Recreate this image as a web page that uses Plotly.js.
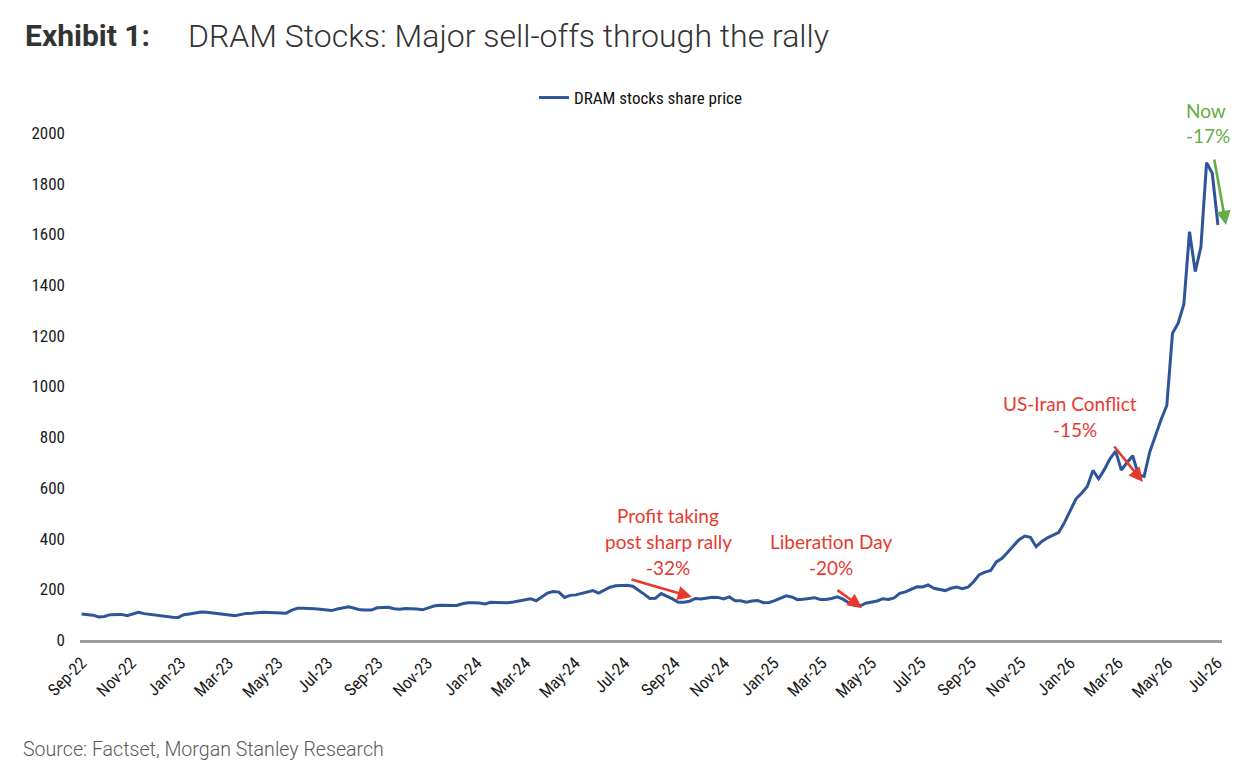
<!DOCTYPE html>
<html>
<head>
<meta charset="utf-8">
<script src="https://cdn.plot.ly/plotly-3.0.1.min.js"></script>
<style>
  html, body { margin: 0; padding: 0; background: #ffffff; }
  #chart { width: 1250px; height: 778px; }
</style>
</head>
<body>
<div id="chart"></div>
<script>
// ---- data (weekly closes) ----
var startDate = '2022-09-01';
var seriesName = 'DRAM stocks share price';
var prices = [
  103, 100, 98, 91, 93, 100, 101, 101, 96, 102,
  109, 104, 101, 99, 96, 93, 90, 89, 100, 103,
  106, 110, 109, 107, 106, 103, 99, 96, 101, 105,
  106, 108, 109, 108, 107, 106, 106, 118, 125, 125,
  125, 123, 121, 119, 116, 122, 126, 131, 125, 119,
  118, 118, 127, 128, 129, 123, 121, 124, 124, 122,
  119, 127, 134, 137, 137, 135, 136, 143, 147, 147,
  146, 142, 149, 148, 147, 147, 150, 155, 159, 163,
  155, 170, 185, 191, 189, 168, 176, 178, 184, 192,
  195, 185, 198, 208, 214, 214, 216, 212, 198, 181,
  164, 165, 183, 173, 162, 149, 149, 153, 164, 162,
  166, 169, 168, 162, 170, 155, 155, 149, 154, 156,
  147, 148, 155, 165, 174, 170, 159, 161, 165, 167,
  160, 160, 164, 170, 161, 147, 137, 134, 145, 149,
  154, 163, 160, 166, 184, 190, 200, 210, 209, 217,
  204, 199, 195, 204, 209, 202, 208, 230, 258, 268,
  274, 308, 322, 346, 373, 396, 410, 405, 368, 389,
  403, 414, 425, 464, 512, 556, 579, 606, 669, 636,
  672, 715, 745, 670, 700, 727, 651, 645, 742, 810,
  870, 925, 1210, 1250, 1325, 1611, 1453, 1550, 1883, 1841,
  1637
];
var yTicks = [0, 200, 400, 600, 800, 1000, 1200, 1400, 1600, 1800, 2000];
var titleBold = 'Exhibit 1:';
var titleMain = 'DRAM Stocks: Major sell-offs through the rally';
var sourceText = 'Source: Factset, Morgan Stanley Research';
var noteProfit = ['Profit taking', 'post sharp rally', '-32%'];
var noteLiberation = ['Liberation Day', '-20%'];
var noteIran = ['US-Iran Conflict', '-15%'];
var noteNow = ['Now', '-17%'];

// weekly dates
var dates = [];
var d0 = new Date(startDate + 'T00:00:00Z');
for (var i = 0; i < prices.length; i++) {
  var d = new Date(d0.getTime() + i * 7 * 86400000);
  dates.push(d.toISOString().slice(0, 10));
}

var RED = '#E8392F';
var GREEN = '#66AC45';
var TXT = 'Lato, "Open Sans", sans-serif';
var AX = '"Roboto Condensed", "Liberation Sans Narrow", Roboto, sans-serif';

// helpers to place things by plot-area pixel (plot area: x 80..1222, y 133..640)
function px(x) { return (x - 80) / 1142; }
function py(y) { return (640 - y) / 507; }

function note(text, x, y, color, size) {
  return {
    xref: 'paper', yref: 'paper', x: px(x), y: py(y),
    xanchor: 'center', yanchor: 'middle',
    text: text, showarrow: false,
    font: { family: TXT, size: size || 19, color: color }
  };
}
function arrow(tx, ty, hx, hy, color) {
  return {
    xref: 'paper', yref: 'paper', x: px(hx), y: py(hy),
    ax: tx - hx, ay: ty - hy, axref: 'pixel', ayref: 'pixel',
    text: '', showarrow: true, arrowhead: 2, arrowsize: 1.1,
    arrowwidth: 2.6, arrowcolor: color, standoff: 0, startstandoff: 0
  };
}

var annotations = [
  // title
  { xref: 'paper', yref: 'paper', x: px(23), y: py(36), xanchor: 'left', yanchor: 'middle',
    text: '<b>' + titleBold + '</b>', showarrow: false,
    font: { family: 'Roboto, sans-serif', size: 30, color: '#333333' } },
  { xref: 'paper', yref: 'paper', x: px(186), y: py(36), xanchor: 'left', yanchor: 'middle',
    text: titleMain, showarrow: false,
    font: { family: 'Roboto, sans-serif', size: 32, color: '#333333', weight: 300 } },
  // source
  { xref: 'paper', yref: 'paper', x: px(21), y: py(749), xanchor: 'left', yanchor: 'middle',
    text: sourceText, showarrow: false,
    font: { family: 'Roboto, sans-serif', size: 19.6, color: '#5a5a5a', weight: 300 } },
  // notes
  note(noteProfit[0], 668, 515, RED),
  note(noteProfit[1], 668, 541, RED),
  note(noteProfit[2], 668, 567, RED),
  note(noteLiberation[0], 831, 541, RED),
  note(noteLiberation[1], 831, 567, RED),
  note(noteIran[0], 1070, 403, RED),
  note(noteIran[1], 1075, 429, RED),
  note(noteNow[0], 1206, 110, GREEN),
  note(noteNow[1], 1208, 135, GREEN),
  // arrows
  arrow(630, 579, 692, 597, RED),
  arrow(836, 589, 862, 608, RED),
  arrow(1113, 445, 1143, 482, RED),
  arrow(1214, 158, 1226, 225, GREEN)
];

var trace = {
  type: 'scatter', mode: 'lines', name: seriesName,
  x: dates, y: prices,
  line: { color: '#2E5597', width: 3 },
  hoverinfo: 'skip'
};

var layout = {
  width: 1250, height: 778,
  margin: { l: 80, r: 28, t: 133, b: 138 },
  paper_bgcolor: '#ffffff', plot_bgcolor: '#ffffff',
  font: { family: AX, size: 17, color: '#1a1a1a' },
  showlegend: true,
  legend: {
    orientation: 'h', x: px(534), y: py(98), xanchor: 'left', yanchor: 'middle',
    bgcolor: 'rgba(0,0,0,0)', font: { family: AX, size: 17, color: '#111111' },
    itemwidth: 30
  },
  xaxis: {
    type: 'date',
    range: ['2022-08-30', '2026-07-07'],
    tick0: '2022-09-01', dtick: 'M2', tickformat: '%b-%y',
    tickangle: -45, ticks: '', showgrid: false, zeroline: false,
    showline: true, linecolor: '#9E9E9E', linewidth: 2.5,
    tickfont: { family: AX, size: 17, color: '#1a1a1a' },
    ticklabelstandoff: 4
  },
  yaxis: {
    range: [0, 2000], tickvals: yTicks, ticktext: yTicks.map(String),
    showgrid: false, zeroline: false, showline: false, ticks: '',
    tickfont: { family: AX, size: 17, color: '#1a1a1a' },
    ticklabelstandoff: 14
  },
  annotations: annotations,
  hovermode: false
};

Plotly.newPlot('chart', [trace], layout, { staticPlot: true, displayModeBar: false });
</script>
</body>
</html>
